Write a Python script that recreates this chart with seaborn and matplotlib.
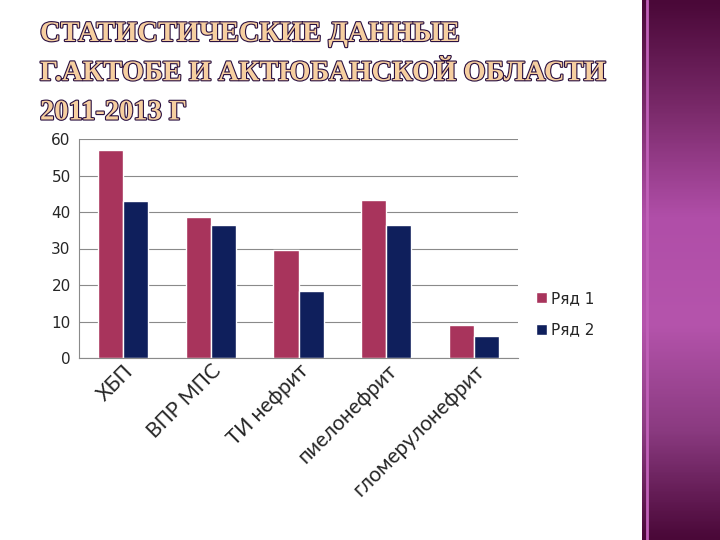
import matplotlib
matplotlib.use('Agg')
import matplotlib.pyplot as plt
import matplotlib.patheffects as pe
from matplotlib.colors import LinearSegmentedColormap
import numpy as np
import pandas as pd
import seaborn as sns

# data
categories = ['ХБП', 'ВПР МПС', 'ТИ нефрит', 'пиелонефрит', 'гломерулонефрит']
row1 = [57, 38.7, 29.7, 43.3, 9.1]
row2 = [43, 36.5, 18.4, 36.5, 6]
series_names = ['Ряд 1', 'Ряд 2']
yticks = [0, 10, 20, 30, 40, 50, 60]

df = pd.DataFrame({
    'cat': categories * 2,
    'val': row1 + row2,
    'series': [series_names[0]] * len(categories) + [series_names[1]] * len(categories),
})

sns.set_style('white')
plt.rcParams['font.family'] = ['DejaVu Sans']

fig = plt.figure(figsize=(7.2, 5.4), dpi=100)

# purple band on the right of the slide
band = fig.add_axes([642 / 720, 0, 78 / 720, 1])
cmap = LinearSegmentedColormap.from_list('band', ['#4a0838', '#7a2a6a', '#b04ea8', '#b554ac', '#8a3a80', '#4a0838'])
band.imshow(np.linspace(0, 1, 200).reshape(-1, 1), aspect='auto', cmap=cmap, extent=[0, 1, 0, 1])
band.axvline(0.06, color='#c060b8', lw=2)
band.axis('off')

ax = fig.add_axes([79 / 720, 1 - 358 / 540, (518 - 79) / 720, (358 - 139) / 540])
sns.barplot(data=df, x='cat', y='val', hue='series', palette=['#a8345c', '#0f1f5c'],
            width=0.57, saturation=1, ax=ax, legend=True)

ax.set_ylim(0, 60)
ax.set_yticks(yticks)
ax.set_xlim(-0.5, len(categories) - 0.5)
ax.yaxis.grid(True, color='#8a8a8a', lw=0.8)
ax.set_axisbelow(True)
for s in ['top', 'right']:
    ax.spines[s].set_visible(False)
ax.spines['left'].set_color('#8a8a8a')
ax.spines['bottom'].set_color('#8a8a8a')
ax.set_xlabel('')
ax.set_ylabel('')

ax.set_xticks(range(len(categories)))
ax.set_xticklabels(categories, rotation=45, ha='right', rotation_mode='anchor', fontsize=15, family='Lato')
ax.tick_params(axis='x', length=0, pad=2)
ax.set_xticks(np.arange(-0.5, len(categories), 1), minor=True)
ax.tick_params(axis='x', which='minor', length=4, color='#8a8a8a', direction='out')
ax.tick_params(axis='y', length=4, color='#8a8a8a', labelsize=11, direction='out', pad=2)

leg = ax.legend(loc='center left', bbox_to_anchor=(1.01, 0.2), frameon=False, fontsize=11,
                handlelength=0.7, handleheight=0.7, handletextpad=0.3, labelspacing=1.1)

title = 'СТАТИСТИЧЕСКИЕ ДАННЫЕ\nГ.АКТОБЕ И АКТЮБАНСКОЙ ОБЛАСТИ\n2011-2013 Г'
t = fig.text(40 / 720, 1 - 22 / 540, title, ha='left', va='top', fontsize=20.5,
             family='Liberation Serif', weight='bold', color='#f6cfa0', linespacing=1.75)
t.set_path_effects([pe.Stroke(linewidth=1.6, foreground='#2a1040'), pe.Normal()])

fig.savefig('out.png', dpi=100)
